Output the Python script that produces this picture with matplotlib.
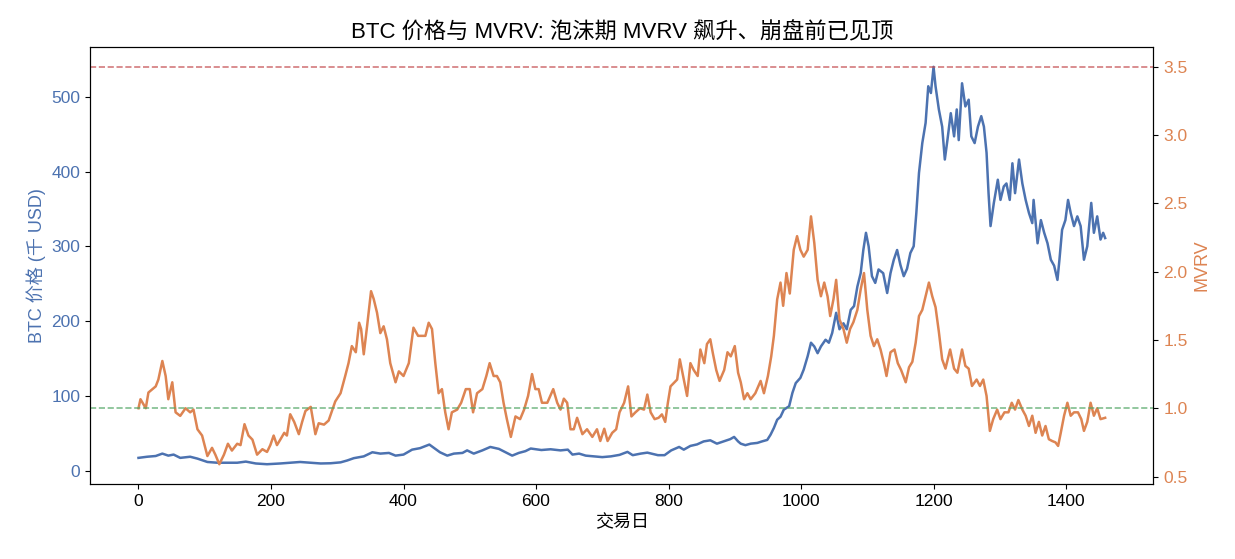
import matplotlib
matplotlib.use("Agg")
import matplotlib.pyplot as plt

plt.rcParams['font.family'] = ['Liberation Sans', 'Noto Sans CJK SC', 'DejaVu Sans']
plt.rcParams['axes.unicode_minus'] = False

# values (trading day -> value)
price_days = [0, 13, 26, 36, 45, 53, 63, 78, 89, 104, 119, 134, 149, 162, 177, 194, 214, 229, 244,
              260, 275, 290, 305, 315, 325, 340, 353, 365, 378, 388, 400, 413, 425, 439, 448, 455,
              466, 476, 489, 496, 506, 519, 531, 544, 556, 564, 574, 584, 592, 608, 622, 637, 648,
              655, 665, 675, 688, 700, 713, 726, 738, 746, 758, 768, 784, 794, 804, 816, 823, 833,
              843, 853, 863, 873, 883, 893, 899, 905, 909, 916, 924, 934, 941, 949, 954, 959, 964,
              969, 974, 982, 987, 992, 999, 1004, 1010, 1015, 1020, 1025, 1030, 1037, 1042, 1047,
              1053, 1058, 1064, 1069, 1075, 1080, 1085, 1090, 1094, 1098, 1102, 1107, 1112, 1117,
              1124, 1130, 1135, 1140, 1145, 1150, 1155, 1160, 1165, 1170, 1174, 1178, 1183, 1188,
              1192, 1196, 1200, 1203, 1208, 1213, 1217, 1221, 1226, 1231, 1235, 1238, 1243, 1248,
              1253, 1257, 1262, 1267, 1272, 1276, 1280, 1283, 1286, 1291, 1297, 1301, 1306, 1310,
              1315, 1319, 1323, 1329, 1334, 1339, 1344, 1349, 1351, 1357, 1362, 1367, 1372, 1377,
              1382, 1387, 1390, 1394, 1399, 1403, 1407, 1412, 1417, 1422, 1427, 1432, 1438, 1442,
              1447, 1452, 1456, 1459]
price_k = [17, 18.5, 19.5, 22.7, 20, 21.4, 17, 18.5, 16, 11.5, 10.5, 10.5, 10.5, 12, 9.5, 8.5, 9.5,
           10.5, 11.5, 10.5, 9.5, 9.8, 11, 13.5, 16.6, 19, 24.5, 22.7, 23.6, 20, 21.4, 28, 30, 34.8,
           29, 24.5, 20, 22.7, 23.6, 27, 22.7, 27, 31.6, 29, 23.6, 20, 23.6, 26, 29.5, 27.5, 28.5,
           27, 28, 21.4, 22.7, 20, 19, 18, 19, 21, 25, 20.6, 22.7, 24, 20.6, 20.6, 27, 31.6, 28, 33,
           35, 39, 40.5, 36, 39, 42, 45, 39, 36, 34, 36, 37, 39, 41, 48, 57, 68, 72, 81.5, 86, 104,
           117, 124, 135, 153, 171, 166, 157, 166, 175, 171, 184, 211, 189, 197, 189, 215, 220, 246,
           264, 295, 318, 300, 260, 251, 269, 264, 237.5, 264, 282, 295, 275, 260, 270, 291, 300,
           344.5, 398, 438, 465, 514, 505, 540, 514, 483, 460, 416, 442.5, 478, 447, 483, 442, 518,
           487, 496, 447, 438, 460, 474, 460, 425, 371, 327, 358, 389, 362, 380, 384, 362, 411, 371,
           416, 384, 362, 344.5, 331, 362, 304, 335, 318, 304, 282, 274, 255, 282, 322, 335, 362,
           344.5, 327, 340, 327, 282, 300, 358, 318, 340, 309, 318, 311]

mvrv_days = [0, 3, 11, 15, 21, 26, 30, 36, 41, 45, 51, 56, 63, 71, 78, 83, 89, 96, 104, 111, 116,
             122, 129, 135, 141, 149, 154, 160, 166, 172, 179, 187, 194, 199, 204, 209, 214, 220,
             224, 229, 235, 242, 247, 252, 260, 267, 272, 280, 287, 292, 297, 305, 312, 317, 322,
             328, 333, 336, 340, 345, 351, 355, 360, 365, 370, 375, 380, 388, 393, 400, 408, 415,
             422, 428, 433, 438, 443, 448, 453, 458, 463, 468, 473, 481, 487, 494, 500, 505, 511,
             519, 525, 530, 536, 541, 546, 551, 556, 562, 569, 576, 582, 588, 594, 599, 604, 609,
             617, 626, 632, 637, 642, 647, 652, 657, 662, 670, 677, 685, 692, 697, 703, 708, 715,
             721, 726, 733, 739, 744, 750, 757, 763, 768, 773, 779, 785, 790, 795, 799, 803, 809,
             813, 817, 822, 828, 833, 838, 844, 848, 854, 858, 863, 867, 872, 877, 884, 889, 894,
             900, 905, 909, 914, 919, 924, 931, 939, 944, 950, 955, 959, 964, 969, 973, 978, 983,
             989, 994, 999, 1004, 1010, 1015, 1020, 1025, 1030, 1035, 1040, 1044, 1049, 1053, 1058,
             1064, 1069, 1074, 1079, 1085, 1090, 1095, 1100, 1105, 1110, 1115, 1120, 1125, 1129,
             1135, 1141, 1146, 1151, 1158, 1163, 1168, 1173, 1178, 1183, 1188, 1193, 1198, 1203,
             1208, 1213, 1218, 1225, 1231, 1236, 1243, 1248, 1253, 1258, 1265, 1270, 1275, 1280,
             1285, 1290, 1296, 1301, 1307, 1313, 1318, 1323, 1328, 1334, 1339, 1344, 1349, 1354,
             1359, 1364, 1369, 1374, 1379, 1384, 1388, 1392, 1397, 1402, 1407, 1412, 1418, 1423,
             1427, 1432, 1437, 1442, 1447, 1452, 1459]
mvrv = [1.00, 1.066, 1.00, 1.115, 1.14, 1.16, 1.21, 1.346, 1.236, 1.066, 1.19, 0.97, 0.944, 1.0,
        0.97, 0.99, 0.846, 0.80, 0.65, 0.71, 0.66, 0.59, 0.66, 0.74, 0.69, 0.74, 0.73, 0.883, 0.80,
        0.77, 0.66, 0.70, 0.68, 0.73, 0.80, 0.73, 0.77, 0.82, 0.80, 0.956, 0.90, 0.81, 0.90, 0.98,
        1.01, 0.81, 0.89, 0.88, 0.91, 0.98, 1.05, 1.11, 1.236, 1.33, 1.455, 1.41, 1.626, 1.58,
        1.395, 1.60, 1.857, 1.80, 1.70, 1.55, 1.60, 1.505, 1.33, 1.19, 1.27, 1.236, 1.33, 1.59,
        1.53, 1.53, 1.53, 1.626, 1.58, 1.33, 1.11, 1.14, 0.97, 0.846, 0.97, 0.99, 1.04, 1.14, 1.14,
        0.97, 1.11, 1.14, 1.236, 1.33, 1.236, 1.236, 1.19, 1.04, 0.92, 0.79, 0.94, 0.92, 0.99, 1.09,
        1.25, 1.14, 1.14, 1.04, 1.04, 1.14, 1.04, 0.99, 1.07, 1.04, 0.846, 0.846, 0.93, 0.81, 0.846,
        0.79, 0.846, 0.76, 0.85, 0.76, 0.82, 0.846, 0.97, 1.04, 1.16, 0.94, 0.97, 1.0, 0.99, 1.10,
        0.97, 0.92, 0.93, 0.955, 0.90, 1.04, 1.16, 1.19, 1.21, 1.358, 1.236, 1.09, 1.33, 1.28,
        1.236, 1.43, 1.33, 1.47, 1.505, 1.40, 1.28, 1.20, 1.28, 1.41, 1.38, 1.455, 1.26, 1.19,
        1.066, 1.11, 1.066, 1.11, 1.20, 1.11, 1.236, 1.38, 1.53, 1.797, 1.92, 1.75, 1.99, 1.84,
        2.16, 2.26, 2.16, 2.11, 2.16, 2.405, 2.21, 1.94, 1.82, 1.92, 1.82, 1.675, 1.80, 1.94, 1.65,
        1.58, 1.48, 1.58, 1.63, 1.72, 1.87, 1.99, 1.72, 1.53, 1.455, 1.505, 1.43, 1.33, 1.236,
        1.41, 1.43, 1.33, 1.28, 1.19, 1.30, 1.34, 1.48, 1.675, 1.72, 1.82, 1.92, 1.82, 1.74, 1.56,
        1.358, 1.29, 1.43, 1.29, 1.26, 1.43, 1.31, 1.29, 1.163, 1.21, 1.163, 1.21, 1.09, 0.834,
        0.92, 0.99, 0.92, 0.97, 0.97, 1.04, 0.99, 1.06, 0.99, 0.945, 0.87, 0.945, 0.82, 0.90, 0.80,
        0.87, 0.773, 0.76, 0.75, 0.724, 0.82, 0.945, 1.04, 0.945, 0.97, 0.97, 0.92, 0.834, 0.90,
        1.04, 0.945, 1.0, 0.92, 0.93]

bubble_level = 3.5
fair_level = 1.0

fig, ax = plt.subplots(figsize=(12.35, 5.59), dpi=100)
fig.subplots_adjust(left=0.073, right=0.934, top=0.916, bottom=0.134)

ax.plot(price_days, price_k, color='#4C72B0', lw=1.8)
ax.set_xlabel('交易日', fontsize=13)
ax.set_ylabel('BTC 价格 (千 USD)', color='#4C72B0', fontsize=13)
ax.tick_params(axis='y', colors='#4C72B0', labelsize=12.5)
ax.tick_params(axis='x', labelsize=12.5)
ax.set_xticks(range(0, 1401, 200))
ax.set_yticks(range(0, 501, 100))

ax2 = ax.twinx()
ax2.plot(mvrv_days, mvrv, color='#DD8452', lw=1.8)
ax2.axhline(bubble_level, color='#C44E52', ls='--', lw=1.2, alpha=0.75)
ax2.axhline(fair_level, color='#55A868', ls='--', lw=1.2, alpha=0.75)
ax2.set_ylabel('MVRV', color='#DD8452', fontsize=13)
ax2.tick_params(axis='y', colors='#DD8452', labelsize=12.5)
ax2.set_yticks([0.5, 1.0, 1.5, 2.0, 2.5, 3.0, 3.5])

for a in (ax, ax2):
    for s in a.spines.values():
        s.set_color('black')
ax2.tick_params(axis='y', color='black')
ax.tick_params(axis='y', color='black')

ax.set_title('BTC 价格与 MVRV: 泡沫期 MVRV 飙升、崩盘前已见顶', fontsize=16)

fig.savefig('out.png')
